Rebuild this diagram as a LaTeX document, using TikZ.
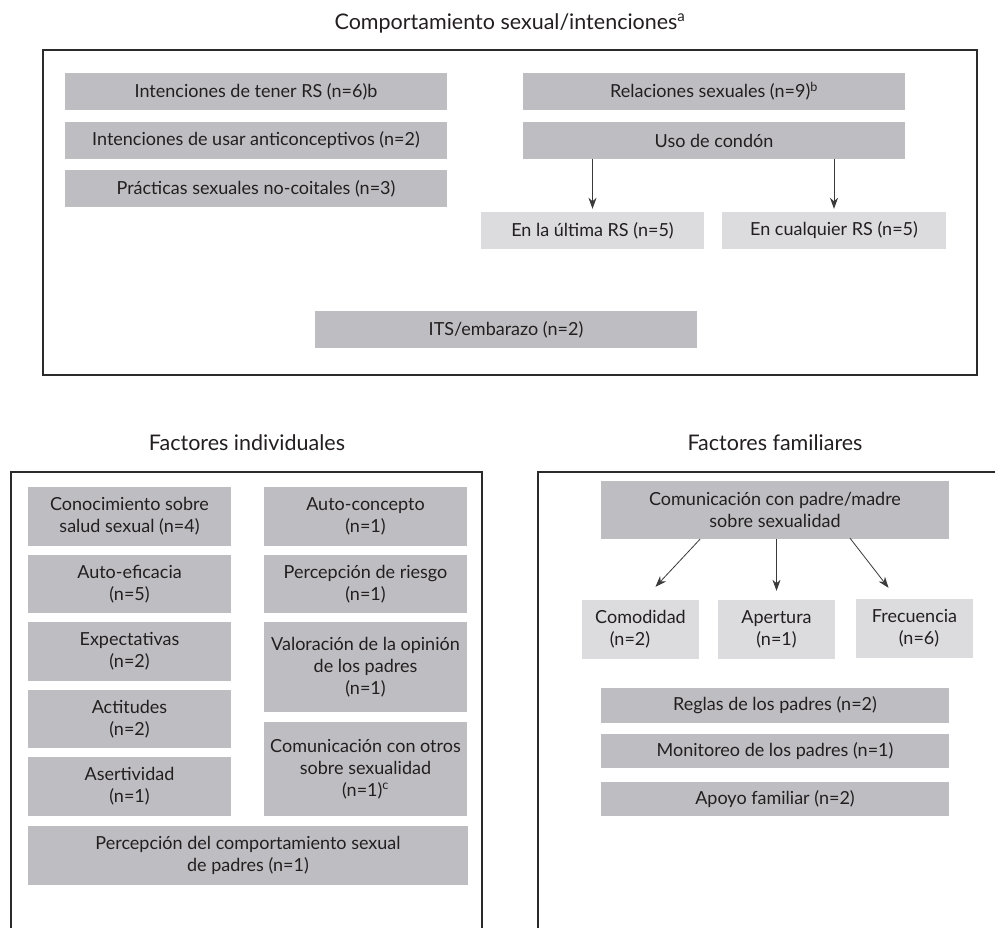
\documentclass[tikz,border=0pt]{standalone}
\usepackage{fontspec}
\setmainfont{Lato}
\usetikzlibrary{arrows.meta,calc}
\definecolor{dgray}{HTML}{BEBEC2}
\definecolor{lgray}{HTML}{DCDCDE}
\definecolor{ink}{HTML}{231F20}
\definecolor{frameclr}{HTML}{2B2B2B}
\definecolor{arrowclr}{HTML}{3A3A3A}
\begin{document}
\begin{tikzpicture}[x=1pt,y=-1pt,
  box/.style={inner sep=0pt, align=center, text=ink, font=\fontsize{18}{22}\selectfont},
  dbox/.style={box, fill=dgray},
  lbox/.style={box, fill=lgray},
  frame/.style={draw=frameclr, line width=2.5pt},
  ttl/.style={text=ink, font=\fontsize{21.5}{24}\selectfont},
  arr/.style={draw=arrowclr, line width=0.8pt, -{Stealth[length=11pt,width=8pt,inset=3.5pt]}}]
\useasboundingbox (0,0) rectangle (995,928);
\fill[white] (0,0) rectangle (995,928);
% frames
\draw[frame] (43,50) rectangle (977,375);
\begin{scope}
\clip (0,0) rectangle (995,928);
\draw[frame] (11,472) rectangle (482,950);
\draw[frame] (538,472) rectangle (1010,950);
\end{scope}
% titles
\node[ttl] (ttop) at (510,23) {Comportamiento sexual/intenciones\textsuperscript{a}};
\node[ttl] (tind) at (247,443) {Factores individuales};
\node[ttl] (tfam) at (775,443) {Factores familiares};
% top section
\node[dbox, minimum width=382pt, minimum height=37pt] (t1) at (256,91.5) {Intenciones de tener RS (n=6)b};
\node[dbox, minimum width=382pt, minimum height=37pt] (t2) at (256,140.5) {Intenciones de usar anticonceptivos (n=2)};
\node[dbox, minimum width=382pt, minimum height=37pt] (t3) at (256,188.5) {Prácticas sexuales no-coitales (n=3)};
\node[dbox, minimum width=382pt, minimum height=37pt] (t4) at (714,91.5) {Relaciones sexuales (n=9)\textsuperscript{b}};
\node[dbox, minimum width=382pt, minimum height=37pt] (t5) at (714,140.5) {Uso de condón};
\node[lbox, minimum width=223pt, minimum height=37pt] (t6) at (592.5,230.5) {En la última RS (n=5)};
\node[lbox, minimum width=224pt, minimum height=37pt] (t7) at (834,230.5) {En cualquier RS (n=5)};
\node[dbox, minimum width=382pt, minimum height=37pt] (t8) at (506,329.5) {ITS/embarazo (n=2)};
\draw[arr, shorten >=3pt] (t6.north |- t5.south) -- (t6.north);
\draw[arr, shorten >=3pt] (t7.north |- t5.south) -- (t7.north);
% individual factors
\node[dbox, minimum width=203pt, minimum height=59pt] (i1) at (129.5,516.5) {Conocimiento sobre\\salud sexual (n=4)};
\node[dbox, minimum width=203pt, minimum height=58pt] (i2) at (129.5,584) {Auto-eficacia\\(n=5)};
\node[dbox, minimum width=203pt, minimum height=59pt] (i3) at (129.5,651.5) {Expectativas\\(n=2)};
\node[dbox, minimum width=203pt, minimum height=58pt] (i4) at (129.5,719) {Actitudes\\(n=2)};
\node[dbox, minimum width=203pt, minimum height=59pt] (i5) at (129.5,786.5) {Asertividad\\(n=1)};
\node[dbox, minimum width=203pt, minimum height=59pt] (i6) at (365.5,516.5) {Auto-concepto\\(n=1)};
\node[dbox, minimum width=203pt, minimum height=58pt] (i7) at (365.5,584) {Percepción de riesgo\\(n=1)};
\node[dbox, minimum width=203pt, minimum height=90pt] (i8) at (365.5,667) {Valoración de la opinión\\de los padres\\(n=1)};
\node[dbox, minimum width=203pt, minimum height=94pt] (i9) at (365.5,769) {Comunicación con otros\\sobre sexualidad\\(n=1)\textsuperscript{c}};
\node[dbox, minimum width=440pt, minimum height=59pt] (i10) at (248,855.5) {Percepción del comportamiento sexual\\de padres (n=1)};
% family factors
\node[dbox, minimum width=348pt, minimum height=58pt] (f1) at (775,510) {Comunicación con padre/madre\\sobre sexualidad};
\node[lbox, minimum width=117pt, minimum height=59pt] (f2) at (640.5,629.5) {Comodidad\\\hspace*{-21pt}(n=2)};
\node[lbox, minimum width=117pt, minimum height=59pt] (f3) at (776.5,629.5) {Apertura\\(n=1)};
\node[lbox, minimum width=117pt, minimum height=59pt] (f4) at (914.5,628.5) {Frecuencia\\\hspace*{9pt}(n=6)};
\node[dbox, minimum width=348pt, minimum height=35pt] (f5) at (775,705.5) {Reglas de los padres (n=2)};
\node[dbox, minimum width=348pt, minimum height=34pt] (f6) at (775,751) {Monitoreo de los padres (n=1)};
\node[dbox, minimum width=348pt, minimum height=34pt] (f7) at (775,799) {Apoyo familiar (n=2)};
\draw[arr] ($(f1.south)+(-75,0)$) -- ($(f2.north)+(15,-13)$);
\draw[arr] (f3.north |- f1.south) -- ($(f3.north)+(0,-9)$);
\draw[arr] ($(f1.south)+(75,-1)$) -- ($(f4.north)+(-26,-11)$);
\end{tikzpicture}
\end{document}
